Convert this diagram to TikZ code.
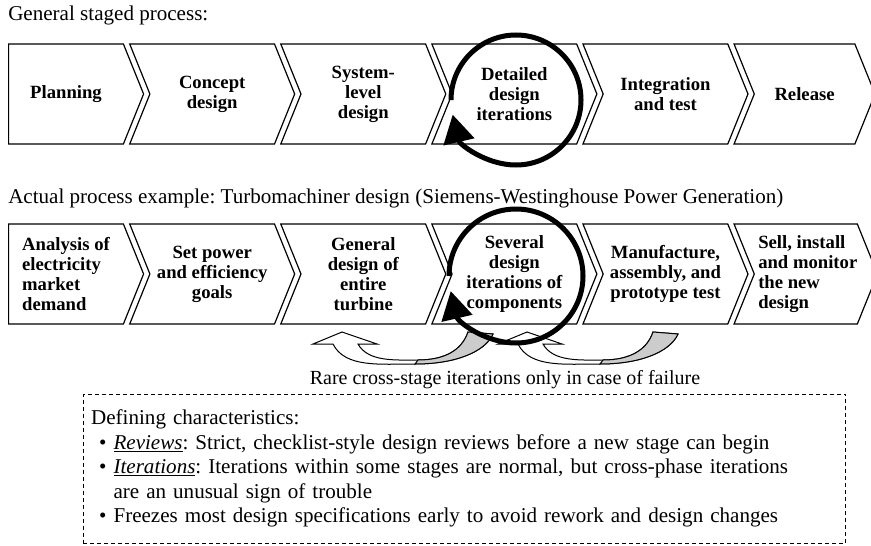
\documentclass[tikz,border=0pt]{standalone}
\usepackage{fontspec}
\setmainfont{Liberation Serif}
\usetikzlibrary{shapes.symbols,positioning,arrows.meta}
\newcommand{\stagefont}{\fontsize{14}{15}\selectfont\bfseries}
\newcommand{\bodyfont}{\fontsize{15.8}{18.4}\selectfont}
\frenchspacing

\begin{document}
\begin{tikzpicture}
        [x=0.75pt, y=0.75pt, node distance=3.75pt,
         stage/.style={signal, signal to=east, signal from=west, signal pointer angle=136,
                       draw, line width=0.9pt, minimum height=75pt, minimum width=123.75pt,
                       inner sep=0pt, align=center, font=\stagefont},
         headline/.style={anchor=west, inner sep=0pt, font=\bodyfont},
         cycarrow/.style={line width=3.75pt, -{Triangle[length=21pt, width=23pt]}},
         back/.style={draw, fill=white, line width=0.75pt},
         backside/.style={draw, fill=black!20, line width=0.75pt},
         defbox/.style={draw, dashed, dash pattern=on 3pt off 2.25pt, line width=0.75pt,
                        text width=560pt, inner xsep=6pt, minimum height=111.75pt,
                        align=left, font=\bodyfont}]
        
        \useasboundingbox (0,0) rectangle (871,-546);
        
        \node [headline] (gen) at (8,-15) {General staged process:};
        
        \node [stage, signal from=nowhere, minimum width=101.25pt, anchor=west] (plan) at (8,-94) {Planning};
        \node [stage] (concept) [right =of plan] {Concept\\design};
        \node [stage] (syslevel) [right =of concept] {System-\\level\\design};
        \node [stage] (detail) [right =of syslevel] {Detailed\\design\\iterations};
        \node [stage] (integ) [right =of detail] {Integration\\and test};
        \node [stage, minimum width=105.75pt] (release) [right =of integ] {Release};
        
        \node [headline] (actual) at (8,-198) {Actual process example: Turbomachiner design (Siemens-Westinghouse Power Generation)};
        
        \node [stage, signal from=nowhere, minimum width=101.25pt, anchor=west, align=left] (market) at (8,-274) {Analysis of\\electricity\\market\\demand};
        \node [stage] (goals) [right =of market] {Set power\\and efficiency\\goals};
        \node [stage] (turbine) [right =of goals] {General\\design of\\entire\\turbine};
        \node [stage] (comps) [right =of turbine] {Several\\design\\iterations of\\components};
        \node [stage] (manuf) [right =of comps] {Manufacture,\\assembly, and\\prototype test};
        \node [stage, minimum width=105.75pt, align=left] (sell) [right =of manuf] {\hspace*{3pt}Sell, install\\\hspace*{3pt}and monitor\\\hspace*{3pt}the new\\\hspace*{3pt}design};
        
        % cross-stage iterations
        \foreach \dx in {0,185} {
          \begin{scope}[xshift=\dx*0.75pt]
            \draw [back] (313,-344) -- (342,-332) -- (377,-344) -- (358,-344)
              .. controls (368,-362) and (395,-360) .. (418,-360)
              .. controls (445,-360) and (462,-350) .. (468,-332)
              -- (493,-334)
              .. controls (485,-352) and (455,-364) .. (415,-364)
              .. controls (380,-364) and (345,-368) .. (333,-344) -- cycle;
            \draw [backside] (415,-364) .. controls (455,-364) and (485,-352) .. (493,-334)
              -- (468,-332) .. controls (462,-350) and (445,-360) .. (418,-360) -- cycle;
          \end{scope}
        }
        \node [font=\fontsize{15}{18}\selectfont] (rare) at (505,-380) {Rare cross-stage iterations only in case of failure};
        
        % iterations within a stage
        \draw [cycarrow] (451,-100) arc [start angle=180, end angle=-167, radius=48.75pt];
        \draw [cycarrow] (449,-276) arc [start angle=180, end angle=-167, radius=50.25pt];
        
        \node [defbox] (chars) at (464.5,-468.5) {Defining characteristics:\\
          \hspace*{6pt}\textbullet\ \underline{\textit{Reviews}}: Strict, checklist-style design reviews before a new stage can begin\\
          \hspace*{6pt}\textbullet\ \underline{\textit{Iterations}}: Iterations within some stages are normal, but cross-phase iterations\\
          \hspace*{6pt}\phantom{\textbullet\ }are an unusual sign of trouble\\
          \hspace*{6pt}\textbullet\ Freezes most design specifications early to avoid rework and design changes};
        
\end{tikzpicture}
\end{document}
